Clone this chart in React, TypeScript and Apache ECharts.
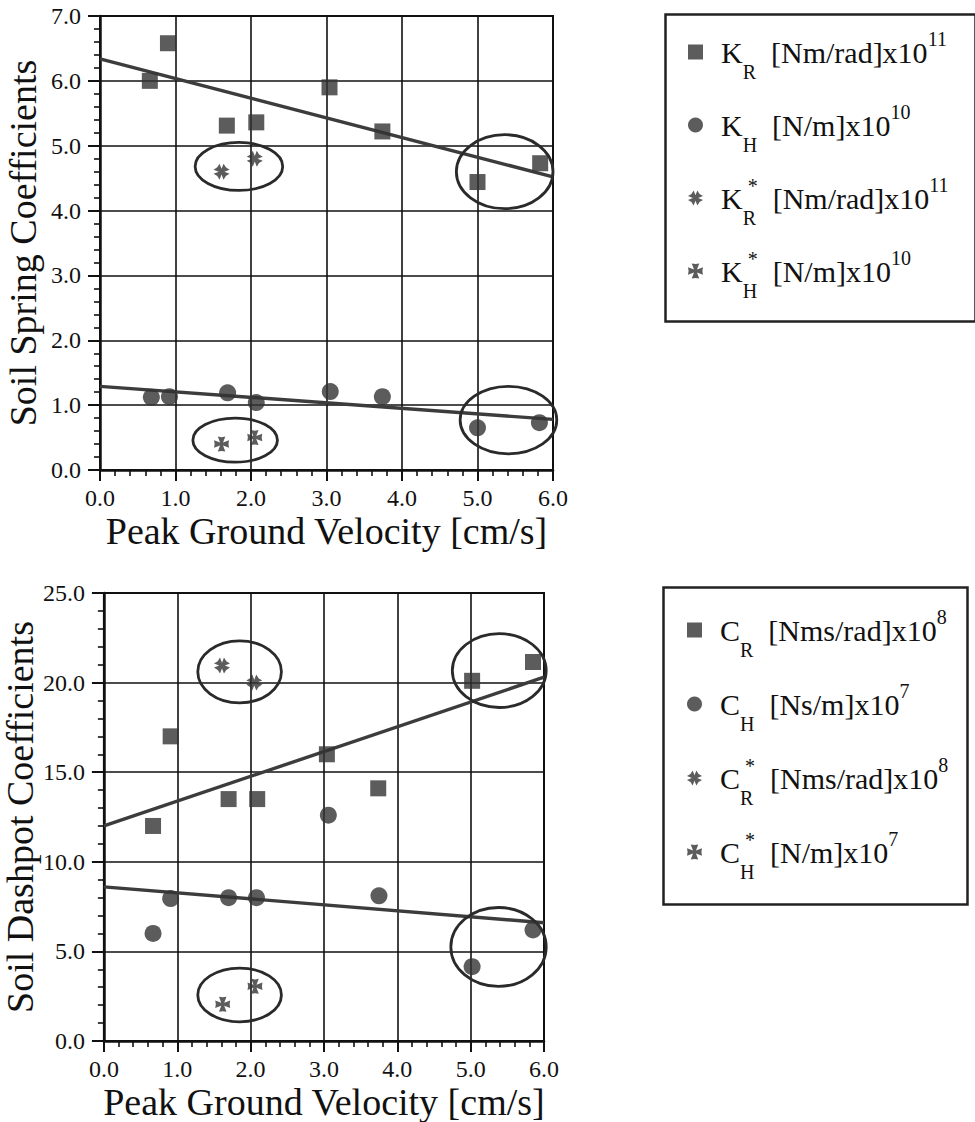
import React, { useEffect, useRef } from 'react';
import * as echarts from 'echarts';

const SERIF = '"Liberation Serif", "Times New Roman", Times, serif';
const INK = '#111';
const MARK = '#333333';

// ---------- data ----------
const xTicksMax = 6;

// top panel: soil spring coefficients
const krPoints = [[0.66, 6.0], [0.9, 6.58], [1.68, 5.31], [2.07, 5.36], [3.04, 5.9], [3.74, 5.22], [5.0, 4.44], [5.83, 4.73]];
const khPoints = [[0.68, 1.12], [0.92, 1.13], [1.69, 1.19], [2.07, 1.04], [3.05, 1.21], [3.74, 1.13], [5.0, 0.65], [5.82, 0.73]];
const krStarPoints = [[1.61, 4.6], [2.05, 4.8]];
const khStarPoints = [[1.61, 0.4], [2.05, 0.5]];
const krFit = [[0, 6.34], [6, 4.52]];
const khFit = [[0, 1.29], [6, 0.78]];
// ellipses: [centerX, centerY, radiusX, radiusY] in data units
const topEllipses = [[1.84, 4.68, 0.58, 0.37], [1.79, 0.46, 0.56, 0.34], [5.36, 4.6, 0.64, 0.57], [5.41, 0.77, 0.64, 0.52]];

// bottom panel: soil dashpot coefficients
const crPoints = [[0.67, 12.0], [0.91, 17.0], [1.7, 13.5], [2.09, 13.5], [3.04, 16.0], [3.74, 14.1], [5.02, 20.1], [5.85, 21.15]];
const chPoints = [[0.67, 6.0], [0.91, 7.95], [1.7, 8.0], [2.08, 8.0], [3.06, 12.6], [3.75, 8.1], [5.02, 4.15], [5.85, 6.2]];
const crStarPoints = [[1.61, 20.95], [2.05, 20.0]];
const chStarPoints = [[1.62, 2.05], [2.06, 3.05]];
const crFit = [[0, 12.0], [6, 20.3]];
const chFit = [[0, 8.6], [6, 6.6]];
const bottomEllipses = [[1.85, 20.6, 0.57, 1.73], [1.85, 2.57, 0.57, 1.5], [5.39, 20.67, 0.64, 2.06], [5.38, 5.25, 0.65, 2.2]];

const topSeriesNames = ['KR', 'KH', 'KR*', 'KH*'];
const bottomSeriesNames = ['CR', 'CH', 'CR*', 'CH*'];

const legendLabels: Record<string, string> = {
  'KR': '{k|K}{sub|R}{b|  [Nm/rad]x10}{sup|11}',
  'KH': '{k|K}{sub|H}{b|  [N/m]x10}{sup|10}',
  'KR*': '{k|K}{subs|R}{star|*}{b|  [Nm/rad]x10}{sup|11}',
  'KH*': '{k|K}{subs|H}{star|*}{b|  [N/m]x10}{sup|10}',
  'CR': '{k|C}{sub|R}{b|  [Nms/rad]x10}{sup|8}',
  'CH': '{k|C}{sub|H}{b|  [Ns/m]x10}{sup|7}',
  'CR*': '{k|C}{subs|R}{star|*}{b|  [Nms/rad]x10}{sup|8}',
  'CH*': '{k|C}{subs|H}{star|*}{b|  [N/m]x10}{sup|7}',
};

// ---------- symbols ----------
function crossSymbol(rotDeg: number, L: number, W: number, w: number, n: number) {
  const pts = [
    [-W, -L], [0, -L + n], [W, -L], [w, -w],
    [L, -W], [L - n, 0], [L, W], [w, w],
    [W, L], [0, L - n], [-W, L], [-w, w],
    [-L, W], [-L + n, 0], [-L, -W], [-w, -w],
  ];
  const a = (rotDeg * Math.PI) / 180;
  const c = Math.cos(a);
  const s = Math.sin(a);
  const r = pts.map(([x, y]) => [x * c - y * s + 20, x * s + y * c + 20]);
  return 'path://M' + r.map((p) => p[0].toFixed(2) + ',' + p[1].toFixed(2)).join('L') + 'Z';
}
const rotStar = crossSymbol(45, 10, 6, 2.8, 1.4);
const uprightStar = crossSymbol(0, 10, 5, 2, 0.8);

const richText = {
  k: { fontSize: 30, fontFamily: SERIF, color: INK, lineHeight: 60, padding: [0, 0, 0, 13] },
  b: { fontSize: 30, fontFamily: SERIF, color: INK, lineHeight: 60 },
  sub: { fontSize: 20, fontFamily: SERIF, color: INK, verticalAlign: 'bottom', height: 21, lineHeight: 21 },
  subs: { fontSize: 20, fontFamily: SERIF, color: INK, verticalAlign: 'bottom', height: 21, lineHeight: 21, width: 5 },
  star: { fontSize: 20, fontFamily: SERIF, color: INK, verticalAlign: 'top', height: 36, lineHeight: 36 },
  sup: { fontSize: 20, fontFamily: SERIF, color: INK, verticalAlign: 'top', height: 34, lineHeight: 34 },
};

function xAxisFor(gi: number) {
  return {
    type: 'value', gridIndex: gi, position: 'bottom', min: 0, max: xTicksMax, interval: 1,
    axisLine: { show: true, onZero: false, lineStyle: { color: INK, width: 2.5 } },
    axisTick: { show: true, inside: false, length: 11, lineStyle: { color: INK, width: 2 } },
    minorTick: { show: true, splitNumber: 5, length: 6, lineStyle: { color: INK, width: 1.6 } },
    splitLine: { show: true, lineStyle: { color: INK, width: 1.6 } },
    axisLabel: { fontFamily: SERIF, fontSize: 24, color: INK, margin: 16, formatter: (v: number) => v.toFixed(1) },
    name: 'Peak Ground Velocity [cm/s]', nameLocation: 'middle', nameGap: 42,
    nameTextStyle: { fontFamily: SERIF, fontSize: 38, color: INK },
  };
}

function yAxisFor(gi: number, max: number, interval: number, name: string) {
  return {
    type: 'value', gridIndex: gi, position: 'left', min: 0, max, interval,
    axisLine: { show: true, onZero: false, lineStyle: { color: INK, width: 2.5 } },
    axisTick: { show: true, inside: false, length: 12, lineStyle: { color: INK, width: 2 } },
    minorTick: { show: true, splitNumber: 5, length: 6, lineStyle: { color: INK, width: 1.6 } },
    splitLine: { show: true, lineStyle: { color: INK, width: 1.6 } },
    axisLabel: { fontFamily: SERIF, fontSize: 24, color: INK, margin: 19, formatter: (v: number) => v.toFixed(1) },
    name, nameLocation: 'middle', nameGap: 58,
    nameTextStyle: { fontFamily: SERIF, fontSize: 38, color: INK },
  };
}

function fitLine(data: number[][], gi: number) {
  return {
    type: 'line', data, xAxisIndex: gi, yAxisIndex: gi, symbol: 'none', showSymbol: false,
    silent: true, z: 3, lineStyle: { color: '#3c3c3c', width: 3.4 },
  };
}

function scatter(name: string, data: number[][], gi: number, symbol: string, size: number) {
  return {
    type: 'scatter', name, data, xAxisIndex: gi, yAxisIndex: gi, symbol, symbolSize: size,
    itemStyle: { color: MARK }, z: 6,
  };
}

function ellipses(data: number[][], gi: number) {
  return {
    type: 'custom', xAxisIndex: gi, yAxisIndex: gi, data, silent: true, clip: false, z: 4,
    encode: { x: 0, y: 1 },
    renderItem: (_p: any, api: any) => {
      const c = api.coord([api.value(0), api.value(1)]);
      const s = api.size([api.value(2), api.value(3)]);
      return {
        type: 'ellipse',
        shape: { cx: c[0], cy: c[1], rx: s[0], ry: s[1] },
        style: { fill: 'none', stroke: '#2a2a2a', lineWidth: 2.8 },
      };
    },
  };
}

function legendFor(names: string[], left: number, top: number, gap: number) {
  return {
    data: names, orient: 'vertical', left, top, padding: 0, itemGap: gap,
    itemWidth: 15, itemHeight: 15, selectedMode: false,
    formatter: (n: string) => legendLabels[n],
    textStyle: { fontFamily: SERIF, fontSize: 30, color: INK, rich: richText },
  };
}

export default function App() {
  const ref = useRef<HTMLDivElement>(null);
  useEffect(() => {
    if (!ref.current) return;
    const chart = echarts.init(ref.current, null, { renderer: 'svg' });
    chart.setOption({
      animation: false,
      backgroundColor: '#fff',
      grid: [
        { left: 100, top: 16, width: 453, height: 454, show: true, borderColor: INK, borderWidth: 2, backgroundColor: 'transparent' },
        { left: 100, top: 593, width: 444, height: 448, show: true, borderColor: INK, borderWidth: 2, backgroundColor: 'transparent' },
      ],
      xAxis: [xAxisFor(0), xAxisFor(1)],
      yAxis: [
        yAxisFor(0, 7, 1, 'Soil Spring Coefficients'),
        yAxisFor(1, 25, 5, 'Soil Dashpot Coefficients'),
      ],
      legend: [
        legendFor(topSeriesNames, 688, 22, 13),
        legendFor(bottomSeriesNames, 687, 600, 14),
      ],
      graphic: [
        { type: 'rect', left: 663, top: 12, shape: { width: 310, height: 307 }, style: { fill: 'none', stroke: '#222', lineWidth: 2.5 } },
        { type: 'rect', left: 661, top: 585, shape: { width: 304, height: 317 }, style: { fill: 'none', stroke: '#222', lineWidth: 2.5 } },
      ],
      series: [
        fitLine(krFit, 0),
        fitLine(khFit, 0),
        fitLine(crFit, 1),
        fitLine(chFit, 1),
        ellipses(topEllipses, 0),
        ellipses(bottomEllipses, 1),
        scatter('KR', krPoints, 0, 'rect', 16),
        scatter('KH', khPoints, 0, 'circle', 17),
        scatter('KR*', krStarPoints, 0, rotStar, 16),
        scatter('KH*', khStarPoints, 0, uprightStar, 15),
        scatter('CR', crPoints, 1, 'rect', 16),
        scatter('CH', chPoints, 1, 'circle', 17),
        scatter('CR*', crStarPoints, 1, rotStar, 16),
        scatter('CH*', chStarPoints, 1, uprightStar, 15),
      ],
    });
    return () => chart.dispose();
  }, []);
  return <div ref={ref} style={{ position: 'absolute', left: 0, top: 0, width: 975, height: 1122 }} />;
}
